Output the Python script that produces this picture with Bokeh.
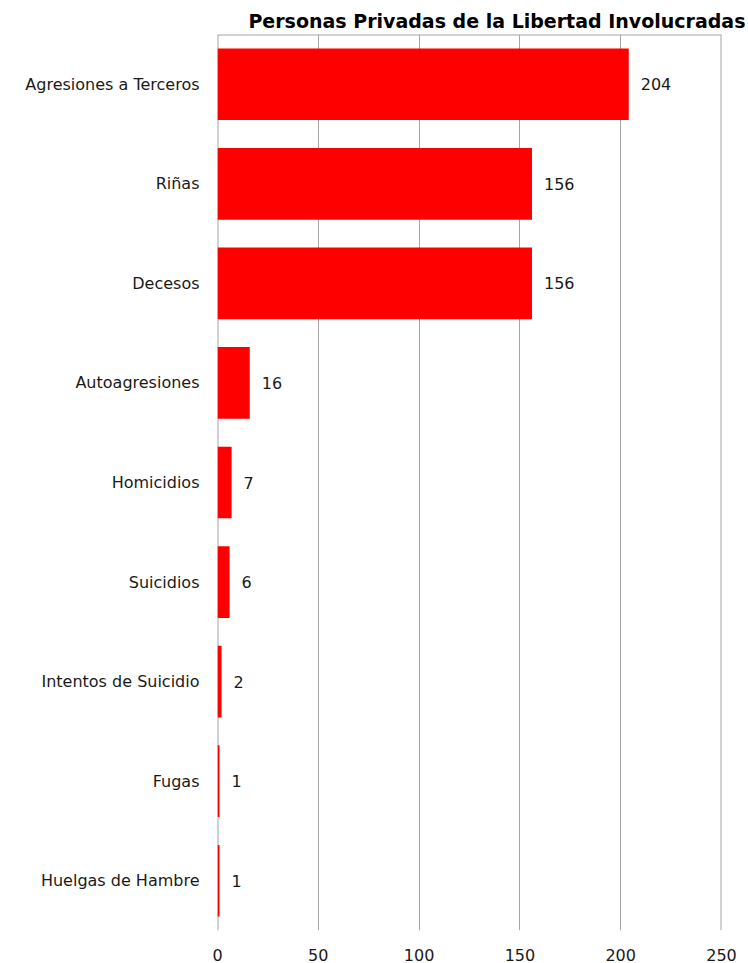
from bokeh.plotting import figure
from bokeh.models import ColumnDataSource, LabelSet, Title, FactorRange, Range1d, Span
from bokeh.core.properties import value
from bokeh.embed import file_html
from bokeh.resources import INLINE

categories = ["Agresiones a Terceros", "Riñas", "Decesos", "Autoagresiones", "Homicidios",
              "Suicidios", "Intentos de Suicidio", "Fugas", "Huelgas de Hambre"]
values = [204, 156, 156, 16, 7, 6, 2, 1, 1]
x_ticks = [0, 50, 100, 150, 200, 250]
title_text = "Personas Privadas de la Libertad Involucradas"

FONT = "DejaVu Sans"
TXT = "#1a1a1a"
GRID = "#a6a6a6"

src = ColumnDataSource(dict(cat=categories, val=values, lbl=[str(v) for v in values]))

p = figure(width=748, height=963, y_range=FactorRange(*reversed(categories)),
           x_range=Range1d(0, 250), output_backend="svg", toolbar_location=None,
           min_border_left=217, min_border_right=27, min_border_top=34, min_border_bottom=32)
p.title = None
t = Title(text=title_text, align="right", offset=-24, text_font=FONT, text_font_size="19px",
          text_font_style="bold", text_color="#000000", standoff=5)
p.add_layout(t, "above")

p.outline_line_color = None
p.background_fill_color = "white"

for xv in (x_ticks[0], x_ticks[-1]):
    p.add_layout(Span(location=xv, dimension="height", line_color=GRID, line_width=2, level="underlay"))
p.add_layout(Span(location=len(categories), dimension="width", line_color=GRID, line_width=2,
                  level="underlay"))

p.hbar(y="cat", right="val", left=0, height=0.72, source=src, fill_color="#ff0000", line_color=None)

p.add_layout(LabelSet(x="val", y="cat", text="lbl", source=src, x_offset=12, text_baseline="middle",
                      text_font=value(FONT), text_font_size=value("16px"), text_color=TXT))

p.xaxis.ticker = x_ticks
p.xaxis.axis_line_color = None
p.xaxis.major_tick_line_color = None
p.xaxis.minor_tick_line_color = None
p.xaxis.major_label_text_font = FONT
p.xaxis.major_label_text_font_size = "16px"
p.xaxis.major_label_text_color = TXT
p.xaxis.major_label_standoff = 12

p.yaxis.axis_line_color = None
p.yaxis.major_tick_line_color = None
p.yaxis.major_label_text_font = FONT
p.yaxis.major_label_text_font_size = "16px"
p.yaxis.major_label_text_color = TXT
p.yaxis.major_label_standoff = 12

p.xgrid.ticker = x_ticks
p.xgrid.grid_line_color = GRID
p.xgrid.grid_line_width = 1
p.ygrid.grid_line_color = None

p.y_range.range_padding = 0
p.y_range.group_padding = 0

open("out.html", "w").write(file_html(p, INLINE))
